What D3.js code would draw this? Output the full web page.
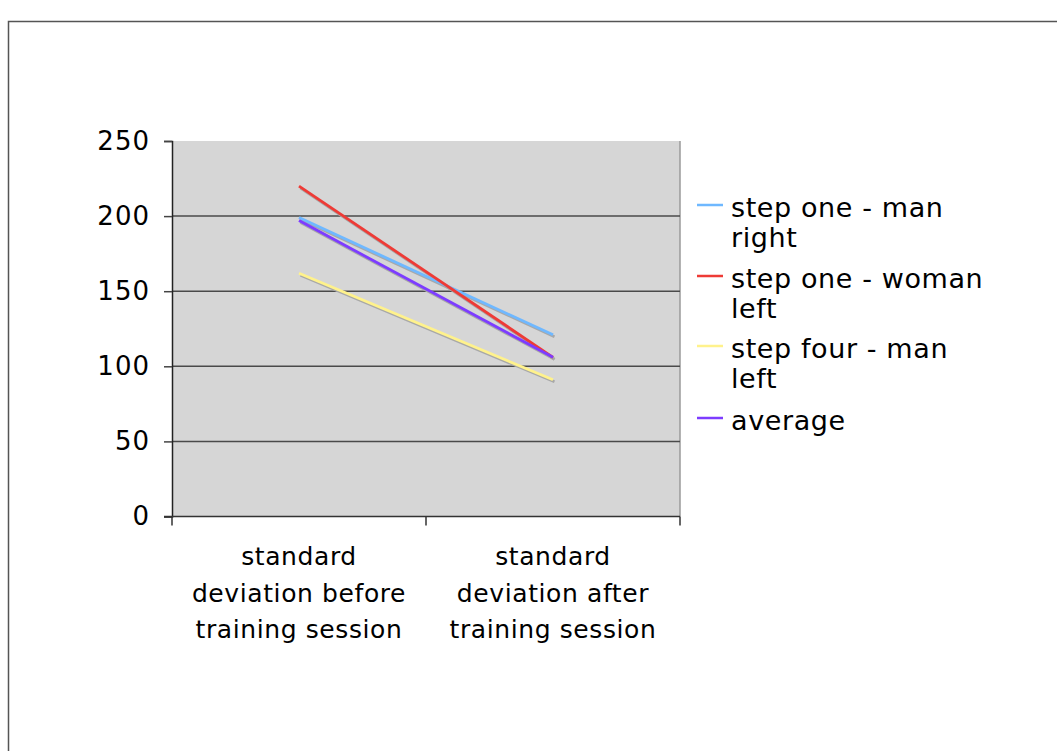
<!DOCTYPE html>
<html>
<head>
<meta charset="utf-8">
<script src="https://cdn.jsdelivr.net/npm/d3@7"></script>
<style>
  html, body { margin: 0; padding: 0; background: #fff; }
  svg { display: block; }
  text { font-family: "DejaVu Sans", Verdana, sans-serif; fill: #000; }
</style>
</head>
<body>
<svg id="chart" width="1057" height="751"></svg>
<script>
// Categories along the x axis (each label split into its display lines)
const categories = ["before", "after"];
const categoryLines = [
  ["standard", "deviation before", "training session"],
  ["standard", "deviation after", "training session"]
];

// Series values (standard deviation before / after the training session)
const seriesNames = ["step one - man right", "step one - woman left", "step four - man left", "average"];
const legendLines = [["step one - man", "right"], ["step one - woman", "left"], ["step four - man", "left"], ["average"]];
const manRight    = [199, 121];
const womanLeft   = [220, 106];
const fourManLeft = [162, 91];
const average     = [197, 106];
const seriesColors = ["#6fb8ff", "#ee3b36", "#fff28c", "#7d3cff"];

const yTicks = [0, 50, 100, 150, 200, 250];

const allSeries = [manRight, womanLeft, fourManLeft, average];

const svg = d3.select("#chart");

// outer frame
svg.append("rect")
  .attr("x", 8.5).attr("y", 21.5)
  .attr("width", 1100).attr("height", 800)
  .attr("fill", "none").attr("stroke", "#555").attr("stroke-width", 1.5);

const plotLeft = 172, plotRight = 680, plotTop = 141, plotBottom = 516.5;

const x = d3.scaleBand().domain(categories).range([plotLeft, plotRight]);
const y = d3.scaleLinear().domain([0, 250]).range([plotBottom, plotTop]);

// plot background
svg.append("rect")
  .attr("x", plotLeft).attr("y", plotTop)
  .attr("width", plotRight - plotLeft).attr("height", plotBottom - plotTop)
  .attr("fill", "#d6d6d6");

// right edge of the plot area
svg.append("line")
  .attr("x1", plotRight).attr("x2", plotRight).attr("y1", plotTop).attr("y2", plotBottom)
  .attr("stroke", "#9a9a9a").attr("stroke-width", 1.5);

// horizontal gridlines
svg.append("g").selectAll("line")
  .data(yTicks.filter(d => d > 0 && d < 250))
  .join("line")
  .attr("x1", plotLeft).attr("x2", plotRight)
  .attr("y1", d => y(d)).attr("y2", d => y(d))
  .attr("stroke", "#4a4a4a").attr("stroke-width", 1.5);

// y axis
const yAxis = d3.axisLeft(y).tickValues(yTicks).tickSize(8).tickPadding(14);
const gy = svg.append("g").attr("transform", `translate(${plotLeft},0)`).call(yAxis);
gy.select(".domain").attr("stroke", "#222").attr("stroke-width", 1.5);
gy.selectAll(".tick line").attr("stroke", "#444").attr("stroke-width", 1.5);
gy.selectAll(".tick text")
  .style("font-family", '"DejaVu Sans", Verdana, sans-serif')
  .style("font-size", "26px").style("letter-spacing", "1px").attr("fill", "#000");

// x axis: baseline plus boundary ticks between categories
svg.append("line")
  .attr("x1", plotLeft - 8).attr("x2", plotRight).attr("y1", plotBottom).attr("y2", plotBottom)
  .attr("stroke", "#333").attr("stroke-width", 1.5);
const boundaries = categories.map(c => x(c)).concat([x(categories[categories.length - 1]) + x.bandwidth()]);
svg.append("g").selectAll("line")
  .data(boundaries)
  .join("line")
  .attr("x1", d => d).attr("x2", d => d)
  .attr("y1", plotBottom).attr("y2", plotBottom + 9)
  .attr("stroke", "#333").attr("stroke-width", 1.5);

// category labels
categories.forEach((c, i) => {
  const cx = x(c) + x.bandwidth() / 2;
  const t = svg.append("text")
    .attr("x", cx)
    .attr("y", 565)
    .attr("text-anchor", "middle")
    .style("font-size", "25px")
    .style("letter-spacing", "0.6px");
  categoryLines[i].forEach((ln, j) => {
    t.append("tspan")
      .attr("x", cx)
      .attr("dy", j === 0 ? 0 : 36.5)
      .text(ln);
  });
});

// series lines with a soft drop shadow
const line = d3.line()
  .x((d, i) => x(categories[i]) + x.bandwidth() / 2)
  .y(d => y(d));

const shadows = svg.append("g").attr("transform", "translate(1.5,2)");
allSeries.forEach(s => {
  shadows.append("path").datum(s).attr("d", line)
    .attr("fill", "none").attr("stroke", "#a8a8a8").attr("stroke-width", 2.8);
});
allSeries.forEach((s, i) => {
  svg.append("path").datum(s).attr("d", line)
    .attr("fill", "none").attr("stroke", seriesColors[i]).attr("stroke-width", 2.8);
});

// legend
const legendBaselines = [217, 288, 358, 430];
legendLines.forEach((lines, i) => {
  const by = legendBaselines[i];
  svg.append("line")
    .attr("x1", 697).attr("x2", 723)
    .attr("y1", by - 12).attr("y2", by - 12)
    .attr("stroke", seriesColors[i]).attr("stroke-width", 2.5);
  const t = svg.append("text").attr("x", 731).attr("y", by)
    .style("font-size", "27px").style("letter-spacing", "0.6px");
  lines.forEach((ln, j) => {
    t.append("tspan").attr("x", 731).attr("dy", j === 0 ? 0 : 30).text(ln);
  });
});
</script>
</body>
</html>
